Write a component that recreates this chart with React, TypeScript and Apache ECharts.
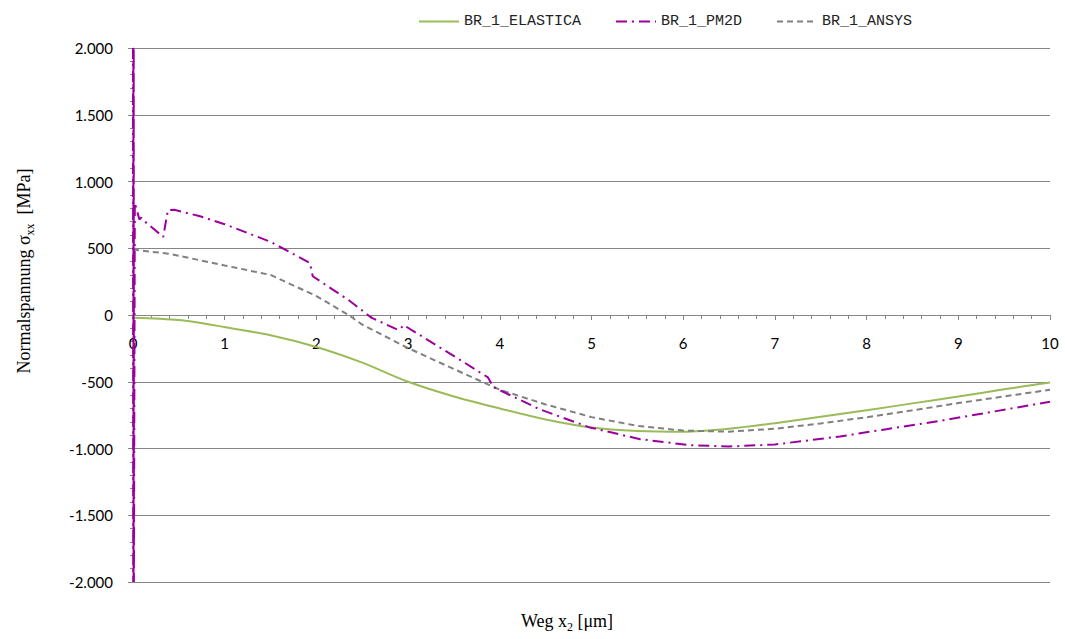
import React, { useEffect, useRef } from "react";
import * as echarts from "echarts";

const seriesNames = ["BR_1_ELASTICA", "BR_1_PM2D", "BR_1_ANSYS"];

const elasticaX = [0, 0.5, 1, 1.5, 2, 2.5, 3, 3.5, 4, 4.5, 5, 5.5, 6, 6.5, 7, 7.5, 8, 8.5, 9, 9.5, 10];
const elasticaY = [-20, -38, -90, -152, -240, -357, -500, -610, -700, -782, -842, -868, -874, -852, -810, -762, -714, -662, -610, -557, -505];

const pm2dX = [0, 0.002, 0.004, 0.006, 0.008, 0.01, 0.02, 0.07, 0.09, 0.12, 0.33, 0.38, 0.45, 0.73, 1, 1.5, 1.93, 1.96, 2.35, 2.6, 2.89, 2.92, 2.95, 3.58, 3.87, 3.93, 4.43, 4.98, 5.53, 6.07, 6.5, 7, 7.71, 8.2, 8.8, 10];
const pm2dY = [2000, -2000, 2000, -2000, 2000, -2000, 840, 715, 730, 705, 585, 785, 788, 740, 680, 548, 390, 290, 112, -20, -112, -100, -75, -342, -467, -540, -705, -842, -930, -975, -985, -970, -910, -857, -793, -650];

const ansysX = [0, 0.4, 1, 1.5, 2, 2.35, 2.5, 3, 3.5, 4, 4.5, 5, 5.5, 6, 6.5, 7, 7.5, 8, 8.5, 9, 9.5, 10];
const ansysY = [490, 458, 371, 300, 142, 0, -72, -248, -405, -560, -670, -765, -830, -866, -874, -852, -812, -766, -714, -660, -610, -560];

const xMin = 0;
const xMax = 10;
const yMin = -2000;
const yMax = 2000;

const yTitle = ["Normalspannung σ", "xx", "  [MPa]"];
const xTitle = ["Weg x", "2", " [μm]"];

const zip = (xs: number[], ys: number[]) => xs.map((x, i) => [x, ys[i]]);

const fmtDE = (v: number) => {
  const s = Math.abs(v).toString().replace(/\B(?=(\d{3})+(?!\d))/g, ".");
  return (v < 0 ? "-" : "") + s;
};

const GRID = "#868686";
const LABEL_FONT = "Lato";
const GRID_TOP = 48;
const GRID_BOTTOM = 57;
const GRID_H = 639 - GRID_TOP - GRID_BOTTOM;
// the x axis crosses the y axis at value 0
const zeroOffset = -GRID_H * ((0 - yMin) / (yMax - yMin));

export default function App() {
  const ref = useRef<HTMLDivElement>(null);
  useEffect(() => {
    if (!ref.current) return;
    const chart = echarts.init(ref.current, undefined, { renderer: "svg" });
    const serifRich = {
      a: { fontFamily: "Liberation Serif", fontSize: 18, color: "#000", lineHeight: 24, verticalAlign: "middle" },
      s: { fontFamily: "Liberation Serif", fontSize: 12, color: "#000", lineHeight: 14, verticalAlign: "bottom" },
    };
    chart.setOption({
      animation: false,
      backgroundColor: "#fff",
      legend: {
        data: seriesNames,
        left: 413,
        top: 9,
        itemWidth: 40,
        itemHeight: 14,
        itemGap: 34,
        itemStyle: { opacity: 0 },
        textStyle: { fontFamily: "Liberation Mono", fontSize: 15, color: "#222" },
      },
      grid: { left: 133, right: 15, top: GRID_TOP, bottom: GRID_BOTTOM, containLabel: false },
      xAxis: {
        type: "value",
        min: xMin,
        max: xMax,
        interval: 1,
        position: "bottom",
        offset: zeroOffset,
        axisLine: { onZero: false, lineStyle: { color: GRID, width: 1 } },
        axisTick: { show: true, length: 5, lineStyle: { color: GRID } },
        minorTick: { show: true, splitNumber: 5, length: 4, lineStyle: { color: GRID } },
        axisLabel: { margin: 20, fontFamily: LABEL_FONT, fontSize: 15, color: "#000" },
        splitLine: { show: false },
      },
      yAxis: {
        type: "value",
        min: yMin,
        max: yMax,
        interval: 500,
        position: "left",
        axisLine: { show: true, onZero: false, lineStyle: { color: GRID, width: 1 } },
        axisTick: { show: true, length: 5, lineStyle: { color: GRID } },
        minorTick: { show: true, splitNumber: 5, length: 3, lineStyle: { color: GRID } },
        axisLabel: { margin: 20, fontFamily: LABEL_FONT, fontSize: 15, color: "#000", formatter: fmtDE },
        splitLine: { show: true, lineStyle: { color: GRID, width: 1 } },
      },
      graphic: [
        {
          type: "text",
          x: 24,
          y: 271,
          rotation: Math.PI / 2,
          style: {
            text: `{a|${yTitle[0]}}{s|${yTitle[1]}}{a|${yTitle[2]}}`,
            rich: serifRich,
            align: "center",
            verticalAlign: "middle",
          },
        },
        {
          type: "text",
          x: 567,
          y: 621,
          style: {
            text: `{a|${xTitle[0]}}{s|${xTitle[1]}}{a|${xTitle[2]}}`,
            rich: serifRich,
            align: "center",
            verticalAlign: "middle",
          },
        },
      ],
      series: [
        {
          name: seriesNames[0],
          type: "line",
          data: zip(elasticaX, elasticaY),
          smooth: 0.3,
          symbol: "none",
          lineStyle: { color: "#9BBB59", width: 2 },
          itemStyle: { color: "#9BBB59" },
          z: 3,
        },
        {
          name: seriesNames[1],
          type: "line",
          data: zip(pm2dX, pm2dY),
          symbol: "none",
          lineStyle: { color: "#9C009C", width: 2, type: [11, 5, 2, 5] },
          itemStyle: { color: "#9C009C" },
          z: 4,
        },
        {
          name: seriesNames[2],
          type: "line",
          data: zip(ansysX, ansysY),
          symbol: "none",
          lineStyle: { color: "#808080", width: 2, type: [6, 4] },
          itemStyle: { color: "#808080" },
          z: 3,
        },
      ],
    });
    return () => chart.dispose();
  }, []);
  return <div ref={ref} style={{ position: "fixed", left: 0, top: 0, width: 1065, height: 639 }} />;
}
